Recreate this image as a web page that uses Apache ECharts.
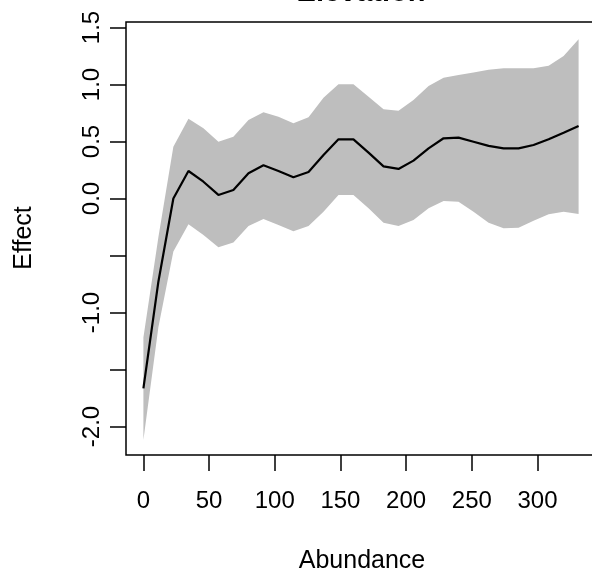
<!DOCTYPE html>
<html>
<head>
<meta charset="utf-8">
<script src="https://cdn.jsdelivr.net/npm/echarts@6/dist/echarts.min.js"></script>
<style>
html,body{margin:0;padding:0;background:#fff;}
#chart{width:592px;height:579px;}
</style>
</head>
<body>
<div id="chart"></div>
<script>
const abundance = [0, 11.4, 22.8, 34.3, 45.7, 57.1, 68.5, 80.0, 91.4, 102.8, 114.2, 125.7, 137.1, 148.5, 159.9, 171.4, 182.8, 194.2, 205.6, 217.1, 228.5, 239.9, 251.3, 262.8, 274.2, 285.6, 297.0, 308.5, 319.9, 331.3];
const effect = [-1.665, -0.73, 0.0, 0.241, 0.147, 0.031, 0.075, 0.221, 0.291, 0.241, 0.186, 0.232, 0.382, 0.519, 0.519, 0.402, 0.282, 0.259, 0.332, 0.44, 0.528, 0.534, 0.498, 0.461, 0.44, 0.44, 0.469, 0.519, 0.577, 0.636];
const upper = [-1.22, -0.34, 0.454, 0.70, 0.616, 0.498, 0.542, 0.689, 0.756, 0.718, 0.66, 0.712, 0.884, 1.002, 1.002, 0.893, 0.782, 0.770, 0.864, 0.987, 1.06, 1.083, 1.104, 1.13, 1.142, 1.142, 1.142, 1.165, 1.25, 1.396];
const lower = [-2.118, -1.13, -0.466, -0.226, -0.32, -0.428, -0.387, -0.241, -0.18, -0.232, -0.288, -0.241, -0.116, 0.031, 0.031, -0.086, -0.212, -0.241, -0.189, -0.086, -0.022, -0.028, -0.116, -0.212, -0.261, -0.256, -0.195, -0.139, -0.116, -0.136];
const xTicks = [0, 50, 100, 150, 200, 250, 300];
const yTicks = [-2.0, -1.5, -1.0, -0.5, 0.0, 0.5, 1.0, 1.5];
const yLabels = [-2.0, -1.0, 0.0, 0.5, 1.0, 1.5];
const titleText = 'Elevation';
const xName = 'Abundance';
const yName = 'Effect';

const FONT = '"Liberation Sans", Arial, sans-serif';
const chart = echarts.init(document.getElementById('chart'), null, {renderer: 'canvas'});

const bandData = abundance.map((x, i) => [x, lower[i], upper[i]]);
const effData = abundance.map((x, i) => [x, effect[i]]);

chart.setOption({
  animation: false,
  backgroundColor: '#ffffff',
  graphic: [
    {type: 'text', x: 361, y: 7.5, style: {text: titleText, font: 'bold 29px ' + FONT, fill: '#000', align: 'center', verticalAlign: 'bottom'}},
    {type: 'text', x: 362, y: 561, style: {text: xName, font: '25px ' + FONT, fill: '#000', align: 'center', verticalAlign: 'middle'}},
    {type: 'text', x: 24, y: 238, rotation: Math.PI / 2, style: {text: yName, font: '25px ' + FONT, fill: '#000', align: 'center', verticalAlign: 'middle'}}
  ],
  grid: {left: 126, top: 22, width: 470, height: 433, show: true, borderColor: '#000', borderWidth: 1.5, backgroundColor: 'transparent', containLabel: false, outerBoundsMode: 'none'},
  xAxis: {
    type: 'value', min: -13.25, max: 344.55,
    splitLine: {show: false},
    axisLine: {show: false, onZero: false},
    axisTick: {show: true, customValues: xTicks, length: 16, inside: false, lineStyle: {color: '#000', width: 1.5}},
    axisLabel: {show: true, customValues: xTicks, margin: 34, fontSize: 24, color: '#000', fontFamily: FONT, formatter: v => String(v)}
  },
  yAxis: {
    type: 'value', min: -2.25, max: 1.548,
    splitLine: {show: false},
    axisLine: {show: false, onZero: false},
    axisTick: {show: true, customValues: yTicks, length: 16, inside: false, lineStyle: {color: '#000', width: 1.5}},
    axisLabel: {show: true, customValues: yLabels, margin: 22, rotate: 90, fontSize: 24, color: '#000', fontFamily: FONT, formatter: v => v.toFixed(1)}
  },
  series: [
    {
      type: 'custom',
      data: bandData,
      encode: {x: 0, y: [1, 2]},
      silent: true,
      z: 1,
      renderItem: function (params, api) {
        if (params.dataIndex !== 0) return null;
        const pts = [];
        for (let i = 0; i < bandData.length; i++) pts.push(api.coord([bandData[i][0], bandData[i][2]]));
        for (let i = bandData.length - 1; i >= 0; i--) pts.push(api.coord([bandData[i][0], bandData[i][1]]));
        return {type: 'polygon', shape: {points: pts}, style: {fill: '#BEBEBE', stroke: null}};
      }
    },
    {type: 'line', data: effData, symbol: 'none', lineStyle: {color: '#000', width: 2.2}, z: 5}
  ]
});
</script>
</body>
</html>
